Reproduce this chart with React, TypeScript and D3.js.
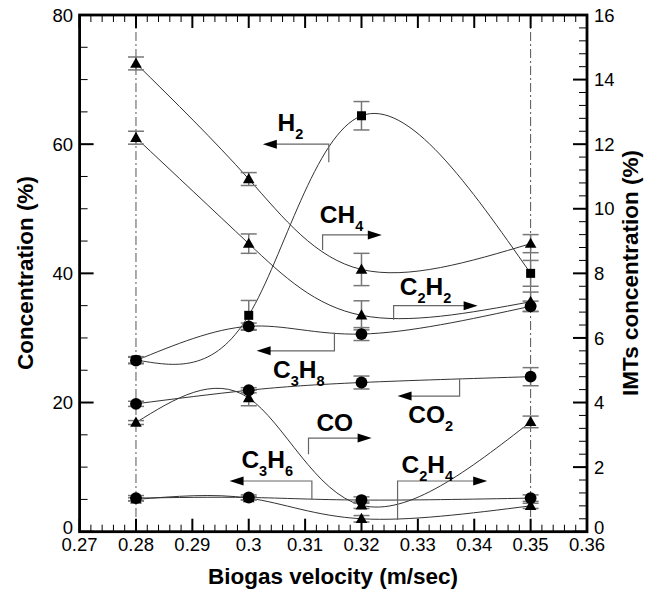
import React from "react";
import * as d3 from "d3";

// biogas velocity (m/sec)
const velocity = [0.28, 0.3, 0.32, 0.35];

// left axis series, Concentration (%)
const h2 = [26.6, 33.5, 64.4, 40.0];
const c3h8 = [26.5, 31.8, 30.6, 34.9];
const co2 = [19.8, 21.9, 23.1, 24.0];
const c3h6 = [5.2, 5.3, 4.9, 5.2];
const h2Err = [0.5, 2.3, 2.2, 2.0];
const c3h8Err = [0.5, 0.5, 1.0, 0.8];
const co2Err = [0.4, 0.4, 1.0, 1.4];
const c3h6Err = [0.4, 0.4, 0.5, 0.5];

// right axis series, IMTs concentration (%)
const ch4 = [14.5, 10.92, 8.12, 8.92];
const c2h2 = [12.2, 8.92, 6.7, 7.12];
const co = [3.38, 4.14, 0.82, 3.4];
const c2h4 = [1.0, 1.04, 0.4, 0.8];
const ch4Err = [0.2, 0.2, 0.5, 0.28];
const c2h2Err = [0.2, 0.3, 0.45, 0.3];
const coErr = [0.06, 0.24, 0.1, 0.18];
const c2h4Err = [0.05, 0.05, 0.1, 0.08];

const xTickLabels = ["0.27", "0.28", "0.29", "0.3", "0.31", "0.32", "0.33", "0.34", "0.35", "0.36"];
const leftTickLabels = ["0", "20", "40", "60", "80"];
const rightTickLabels = ["0", "2", "4", "6", "8", "10", "12", "14", "16"];
const refLines = [0.28, 0.35];

type Marker = "square" | "circle" | "triangle";
type Series = { name: string; axis: "L" | "R"; marker: Marker; values: number[]; err: number[] };

const series: Series[] = [
  { name: "H2", axis: "L", marker: "square", values: h2, err: h2Err },
  { name: "C3H8", axis: "L", marker: "circle", values: c3h8, err: c3h8Err },
  { name: "CO2", axis: "L", marker: "circle", values: co2, err: co2Err },
  { name: "C3H6", axis: "L", marker: "circle", values: c3h6, err: c3h6Err },
  { name: "CH4", axis: "R", marker: "triangle", values: ch4, err: ch4Err },
  { name: "C2H2", axis: "R", marker: "triangle", values: c2h2, err: c2h2Err },
  { name: "CO", axis: "R", marker: "triangle", values: co, err: coErr },
  { name: "C2H4", axis: "R", marker: "triangle", values: c2h4, err: c2h4Err },
];

// call-out labels: [base, subscript] pairs, positions in data units (left axis)
type Note = { parts: [string, string][]; lx: number; ly: number; vx: number; y0: number; y1: number; tip: number };
const notes: Note[] = [
  { parts: [["H", "2"]], lx: 0.3051, ly: 62.0, vx: 0.3142, y0: 57.2, y1: 60.0, tip: 0.3025 },
  { parts: [["CH", "4"]], lx: 0.3126, ly: 47.8, vx: 0.3131, y0: 43.6, y1: 45.95, tip: 0.3236 },
  { parts: [["C", "2"], ["H", "2"]], lx: 0.3268, ly: 36.6, vx: 0.3257, y0: 32.8, y1: 35.0, tip: 0.3406 },
  { parts: [["C", "3"], ["H", "8"]], lx: 0.3043, ly: 23.8, vx: 0.3152, y0: 30.8, y1: 28.0, tip: 0.3014 },
  { parts: [["CO", "2"]], lx: 0.3283, ly: 16.8, vx: 0.3374, y0: 23.6, y1: 21.0, tip: 0.3264 },
  { parts: [["CO", ""]], lx: 0.312, ly: 15.6, vx: 0.3106, y0: 12.0, y1: 14.5, tip: 0.3218 },
  { parts: [["C", "3"], ["H", "6"]], lx: 0.2987, ly: 9.86, vx: 0.3112, y0: 5.06, y1: 7.85, tip: 0.2966 },
  { parts: [["C", "2"], ["H", "4"]], lx: 0.3271, ly: 9.1, vx: 0.3264, y0: 1.8, y1: 7.85, tip: 0.3423 },
];

const W = 653;
const H = 592;
const x0 = 79.6, x1 = 587, yTop = 15, yBot = 531.7;
const FONT = "'Liberation Sans', Arial, Helvetica, sans-serif";

const x = d3.scaleLinear().domain([0.27, 0.36]).range([x0, x1]);
const yL = d3.scaleLinear().domain([0, 80]).range([yBot, yTop]);
const yR = d3.scaleLinear().domain([0, 16]).range([yBot, yTop]);

function markerPath(m: Marker) {
  if (m === "square") return "M-4.5,-4.5H4.5V4.5H-4.5Z";
  if (m === "triangle") return "M0,-6L5.8,4.2L-5.8,4.2Z";
  return d3.symbol(d3.symbolCircle, 110)() as string;
}

export default function App() {
  const line = (s: Series) => {
    const ys = s.axis === "L" ? yL : yR;
    return d3
      .line<number>()
      .x((_, i) => x(velocity[i]))
      .y((v) => ys(v))
      .curve(d3.curveNatural)(s.values) as string;
  };

  const xTicks = d3.range(0, 46).map((i) => ({ v: 0.27 + i * 0.002, major: i % 5 === 0 }));
  const lTicks = d3.range(0, 17).map((i) => ({ v: i * 5, major: i % 4 === 0 }));
  const rTicks = d3.range(0, 41).map((i) => ({ v: i * 0.4, major: i % 5 === 0 }));

  return (
    <svg width={W} height={H} style={{ position: "absolute", left: 0, top: 0, background: "#fff" }} fontFamily={FONT}>
      <rect width={W} height={H} fill="#fff" />
      {refLines.map((v) => (
        <line key={v} x1={x(v)} x2={x(v)} y1={yTop} y2={yBot} stroke="#555" strokeWidth={1} strokeDasharray="9,3,2,3" />
      ))}

      {/* ticks */}
      {xTicks.map((t, i) => (
        <g key={"x" + i} stroke="#000" strokeWidth={t.major ? 2 : 1}>
          <line x1={x(t.v)} x2={x(t.v)} y1={yBot} y2={yBot - (t.major ? 13 : 7)} />
          <line x1={x(t.v)} x2={x(t.v)} y1={yTop} y2={yTop + (t.major ? 13 : 7)} />
        </g>
      ))}
      {lTicks.map((t, i) => (
        <line key={"l" + i} x1={x0} x2={x0 + (t.major ? 14 : 8)} y1={yL(t.v)} y2={yL(t.v)} stroke="#000" strokeWidth={t.major ? 2 : 1} />
      ))}
      {rTicks.map((t, i) => (
        <line key={"r" + i} x1={x1} x2={x1 - (t.major ? 14 : 8)} y1={yR(t.v)} y2={yR(t.v)} stroke="#000" strokeWidth={t.major ? 2 : 1} />
      ))}

      {/* tick labels */}
      <g fontSize={18.5} fill="#000">
        {xTickLabels.map((l) => (
          <text key={l} x={x(+l)} y={551} textAnchor="middle">{l}</text>
        ))}
        {leftTickLabels.map((l) => (
          <text key={l} x={73} y={yL(+l) + (l === "0" ? 2 : 6.6)} textAnchor="end">{l}</text>
        ))}
        {rightTickLabels.map((l) => (
          <text key={l} x={594} y={yR(+l) + (l === "0" ? 2 : 6.6)}>{l}</text>
        ))}
      </g>

      {/* curves */}
      {series.map((s) => (
        <path key={s.name} d={line(s)} fill="none" stroke="#333" strokeWidth={1} />
      ))}

      {/* error bars */}
      {series.map((s) => {
        const ys = s.axis === "L" ? yL : yR;
        return s.values.map((v, i) => {
          const cx = x(velocity[i]);
          const a = ys(v + s.err[i]);
          const b = ys(v - s.err[i]);
          return (
            <g key={s.name + "e" + i} stroke="#777" strokeWidth={1.5}>
              <line x1={cx} x2={cx} y1={a} y2={b} />
              <line x1={cx - 8} x2={cx + 8} y1={a} y2={a} />
              <line x1={cx - 8} x2={cx + 8} y1={b} y2={b} />
            </g>
          );
        });
      })}

      {/* markers */}
      {series.map((s) => {
        const ys = s.axis === "L" ? yL : yR;
        return s.values.map((v, i) => (
          <path key={s.name + "m" + i} d={markerPath(s.marker)} transform={`translate(${x(velocity[i])},${ys(v)})`} fill="#000" />
        ));
      })}

      {/* call-outs */}
      {notes.map((n, k) => {
        const vx = x(n.vx);
        const hy = yL(n.y1);
        const tx = x(n.tip);
        const dir = tx > vx ? 1 : -1;
        return (
          <g key={"n" + k}>
            <path d={`M${vx},${yL(n.y0)}V${hy}H${tx - dir * 12}`} fill="none" stroke="#666" strokeWidth={1.2} />
            <path d={`M${tx},${hy}L${tx - dir * 14},${hy - 4.5}L${tx - dir * 14},${hy + 4.5}Z`} fill="#000" />
            <text x={x(n.lx)} y={yL(n.ly)} fontSize={24.5} fontWeight="bold" fill="#000">
              {n.parts.map(([b, sub], j) => (
                <React.Fragment key={j}>
                  <tspan dy={j > 0 ? -8 : 0}>{b}</tspan>
                  {sub && (
                    <tspan fontSize={14.5} dy={8}>{sub}</tspan>
                  )}
                </React.Fragment>
              ))}
            </text>
          </g>
        );
      })}

      {/* frame */}
      <rect x={x0} y={yTop} width={x1 - x0} height={yBot - yTop} fill="none" stroke="#000" strokeWidth={2.8} />

      {/* axis titles */}
      <text x={333} y={584} textAnchor="middle" fontSize={22.5} fontWeight="bold">Biogas velocity (m/sec)</text>
      <text transform="translate(33,273) rotate(-90)" textAnchor="middle" fontSize={22.5} fontWeight="bold">Concentration (%)</text>
      <text transform="translate(638,273) rotate(-90)" textAnchor="middle" fontSize={22.5} fontWeight="bold">IMTs concentration (%)</text>
    </svg>
  );
}
